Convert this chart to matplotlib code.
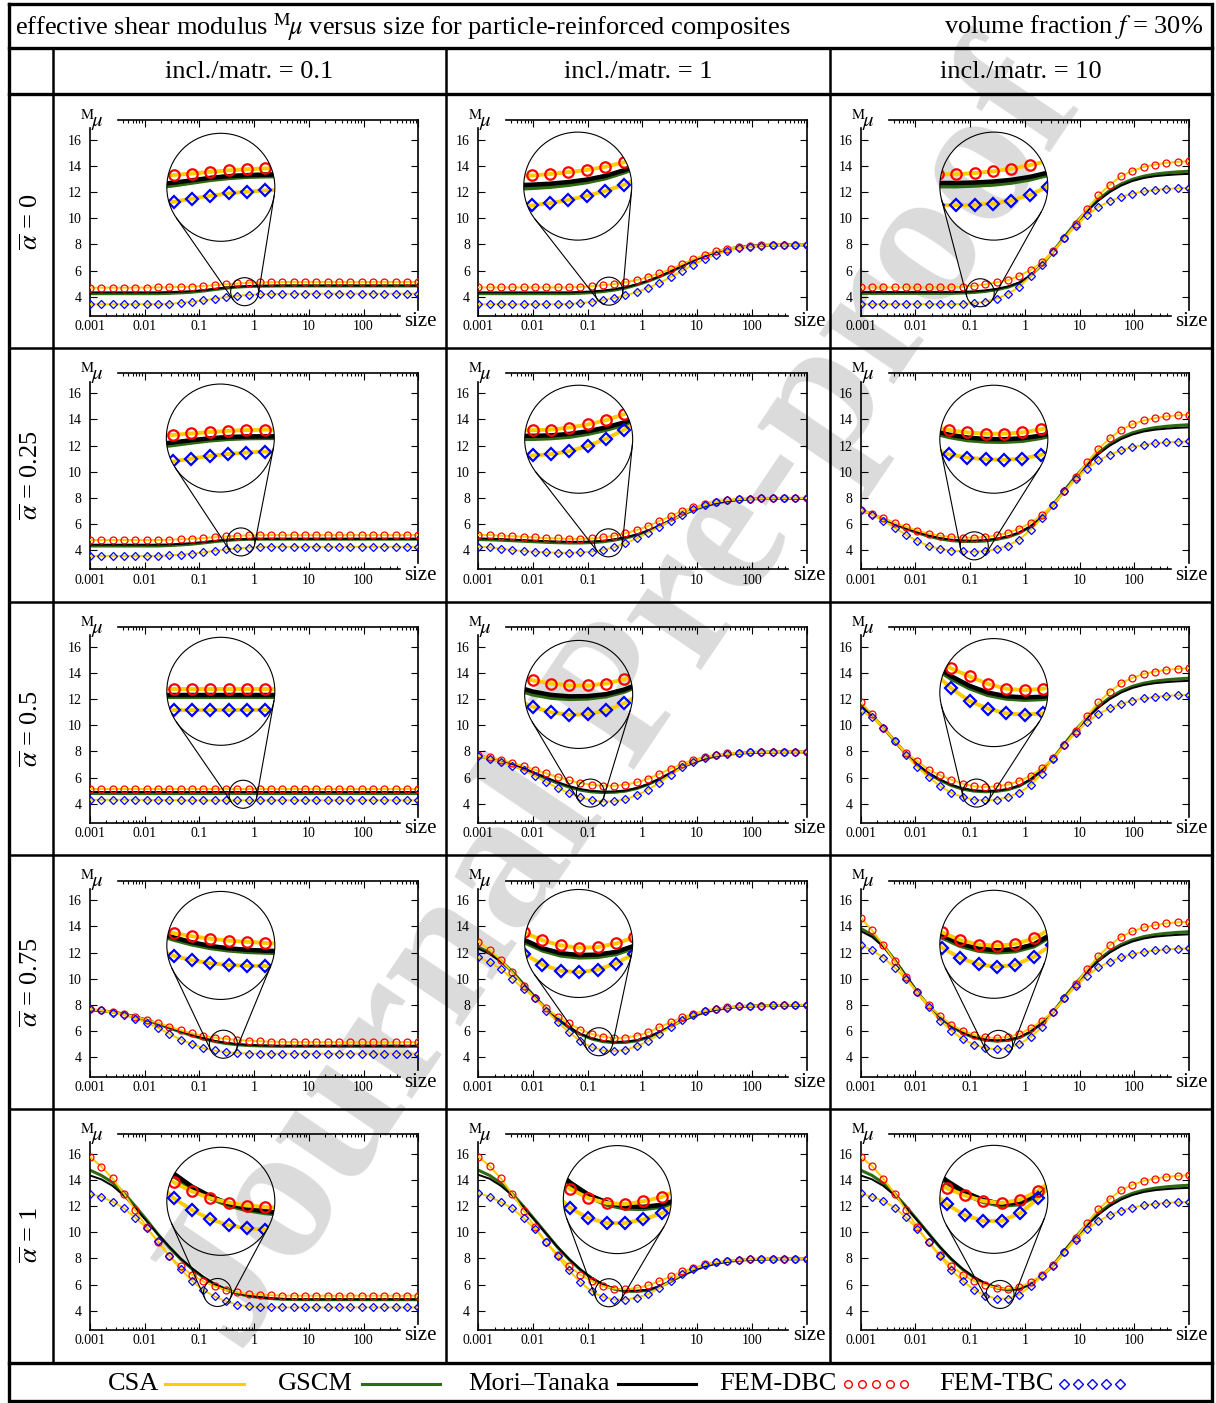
import numpy as np
import matplotlib
matplotlib.use("Agg")
import matplotlib.pyplot as plt
from matplotlib.patches import Circle, Ellipse
from matplotlib.lines import Line2D
from matplotlib.ticker import NullLocator

plt.rcParams['font.family'] = ['Liberation Serif', 'DejaVu Serif']
plt.rcParams['mathtext.fontset'] = 'stix'

# ---------------- data ----------------
size_pts = [0.001, 0.00161, 0.002593, 0.004176, 0.006724, 0.01083, 0.01744, 0.02808,
            0.04521, 0.07281, 0.1172, 0.1888, 0.304, 0.4896, 0.7884, 1.2695, 2.044,
            3.292, 5.301, 8.536, 13.75, 22.14, 35.65, 57.4, 92.43, 148.8, 239.7,
            386.0, 621.5, 1000.0]

alpha_labels = ['0', '0.25', '0.5', '0.75', '1']
ratio_labels = ['0.1', '1', '10']
xtick_vals = [0.001, 0.01, 0.1, 1, 10, 100]
xtick_labels = ['0.001', '0.01', '0.1', '1', '10', '100']
ytick_vals = [4, 6, 8, 10, 12, 14, 16]
legend_labels = ['CSA', 'GSCM', 'Mori\u2013Tanaka', 'FEM-DBC', 'FEM-TBC']

# ratio 0.1 column
dbc_c1_a0 = [4.69]*4 + [4.70, 4.70, 4.71, 4.72, 4.74, 4.77, 4.82, 4.88, 4.95, 5.01, 5.06, 5.09, 5.11, 5.12] + [5.13]*12
tbc_c1_a0 = [3.42]*6 + [3.43, 3.46, 3.52, 3.60, 3.71, 3.84, 3.96, 4.06, 4.13, 4.18, 4.21, 4.22] + [4.23]*12
mt_c1_a0 = [4.33]*7 + [4.35, 4.38, 4.42, 4.50, 4.60, 4.70, 4.77, 4.81, 4.83, 4.84] + [4.85]*13
gscm_c1_a0 = [4.23]*7 + [4.25, 4.29, 4.34, 4.43, 4.54, 4.65, 4.73, 4.78, 4.80, 4.81] + [4.82]*13

dbc_c1_a25 = [4.78]*7 + [4.80, 4.83, 4.87, 4.93, 4.99, 5.05, 5.10, 5.13] + [5.15]*15
tbc_c1_a25 = [3.56]*6 + [3.57, 3.60, 3.65, 3.73, 3.83, 3.95, 4.06, 4.14, 4.20, 4.24] + [4.26]*14
mt_c1_a25 = [4.42]*7 + [4.44, 4.48, 4.54, 4.62, 4.71, 4.79, 4.84, 4.86] + [4.87]*15
gscm_c1_a25 = [4.32]*7 + [4.35, 4.40, 4.46, 4.55, 4.65, 4.74, 4.80, 4.83] + [4.84]*15

dbc_c1_a50 = [5.14]*30
tbc_c1_a50 = [4.30]*5 + [4.29, 4.28, 4.27, 4.26, 4.25, 4.25, 4.25, 4.25, 4.25, 4.26] + [4.26]*15
mt_c1_a50 = [4.87]*30
gscm_c1_a50 = [4.83]*30

dbc_c1_a75 = [7.66, 7.61, 7.46, 7.30, 7.10, 6.87, 6.62, 6.34, 6.06, 5.83, 5.63, 5.50, 5.40, 5.32,
              5.27, 5.22, 5.19, 5.17, 5.16] + [5.15]*11
tbc_c1_a75 = [7.66, 7.58, 7.40, 7.20, 6.95, 6.64, 6.24, 5.78, 5.35, 5.02, 4.69, 4.51, 4.38, 4.31,
              4.28] + [4.27]*15
mt_c1_a75 = [7.62, 7.58, 7.48, 7.33, 7.12, 6.87, 6.58, 6.28, 5.98, 5.70, 5.45, 5.25, 5.10, 5.00,
             4.94, 4.90, 4.88] + [4.87]*13
gscm_c1_a75 = [7.60, 7.56, 7.45, 7.29, 7.08, 6.83, 6.54, 6.23, 5.93, 5.65, 5.40, 5.20, 5.05, 4.95,
               4.89, 4.86, 4.84] + [4.83]*13

dbc_c1_a100 = [15.77, 15.03, 14.12, 12.95, 11.68, 10.41, 9.24, 8.20, 7.38, 6.75, 6.24, 5.86, 5.58,
               5.40, 5.27, 5.22, 5.18, 5.16] + [5.15]*12
tbc_c1_a100 = [12.95, 12.70, 12.34, 11.83, 11.12, 10.31, 9.34, 8.20, 7.18, 6.29, 5.58, 5.09, 4.71,
               4.46, 4.33, 4.28, 4.26] + [4.25]*13
mt_c1_a100 = [14.35, 14.05, 13.55, 12.80, 11.85, 10.85, 9.85, 8.90, 8.00, 7.25, 6.60, 6.05, 5.65,
              5.35, 5.15, 5.03, 4.95, 4.90, 4.88] + [4.87]*11
gscm_c1_a100 = [14.75, 14.35, 13.80, 13.00, 12.00, 10.95, 9.85, 8.85, 7.95, 7.20, 6.55, 6.02, 5.62,
                5.32, 5.12, 5.00, 4.92, 4.87, 4.85] + [4.84]*11

# ratio 1 column
dbc_c2_a0 = [4.71]*9 + [4.74, 4.80, 4.88, 4.97, 5.10, 5.28, 5.50, 5.78, 6.12, 6.50, 6.88, 7.20, 7.47,
                        7.67, 7.80, 7.88, 7.93, 7.95, 7.97, 7.97, 7.98]
tbc_c2_a0 = [3.42]*8 + [3.45, 3.50, 3.60, 3.73, 3.90, 4.10, 4.35, 4.68, 5.05, 5.50, 5.98, 6.45, 6.88,
                        7.22, 7.50, 7.70, 7.82, 7.90, 7.94, 7.96, 7.97, 7.98]
mt_c2_a0 = [4.33]*9 + [4.36, 4.40, 4.47, 4.57, 4.72, 4.95, 5.22, 5.55, 5.93, 6.35, 6.77, 7.12, 7.42,
                       7.63, 7.78, 7.87, 7.92, 7.95, 7.96, 7.96, 7.96]
gscm_c2_a0 = [4.23]*9 + [4.26, 4.31, 4.39, 4.50, 4.66, 4.90, 5.18, 5.52, 5.91, 6.34, 6.77, 7.12, 7.42,
                         7.63, 7.78, 7.87, 7.92, 7.95, 7.96, 7.96, 7.96]

dbc_c2_a25 = [5.16, 5.16, 5.11, 5.08, 5.03, 4.98, 4.92, 4.90, 4.87, 4.87, 4.90, 4.98, 5.11, 5.29, 5.54,
              5.85, 6.23, 6.61, 7.00, 7.28, 7.53, 7.71, 7.84, 7.91, 7.94, 7.96, 7.97, 7.97, 7.98, 7.98]
tbc_c2_a25 = [4.27, 4.22, 4.11, 4.01, 3.93, 3.88, 3.83, 3.80, 3.80, 3.83, 3.88, 4.01, 4.22, 4.52, 4.90,
              5.34, 5.79, 6.25, 6.71, 7.12, 7.43, 7.68, 7.82, 7.90, 7.94, 7.96, 7.97, 7.97, 7.98, 7.98]
mt_c2_a25 = [4.90, 4.88, 4.85, 4.81, 4.77, 4.73, 4.69, 4.66, 4.64, 4.64, 4.66, 4.72, 4.83, 4.99, 5.20,
             5.50, 5.87, 6.28, 6.70, 7.08, 7.38, 7.60, 7.76, 7.86, 7.92, 7.95, 7.96, 7.96, 7.96, 7.96]
gscm_c2_a25 = [4.81, 4.79, 4.76, 4.72, 4.68, 4.64, 4.60, 4.57, 4.55, 4.55, 4.58, 4.64, 4.76, 4.93, 5.15,
               5.46, 5.85, 6.27, 6.70, 7.08, 7.38, 7.60, 7.76, 7.86, 7.92, 7.95, 7.96, 7.96, 7.96, 7.96]

dbc_c2_a50 = [7.69, 7.56, 7.36, 7.13, 6.88, 6.60, 6.32, 6.04, 5.78, 5.58, 5.45, 5.37, 5.37, 5.45, 5.63,
              5.91, 6.29, 6.67, 7.06, 7.36, 7.59, 7.74, 7.84, 7.89, 7.94, 7.96, 7.97, 7.97, 7.98, 7.98]
tbc_c2_a50 = [7.64, 7.43, 7.18, 6.88, 6.55, 6.11, 5.66, 5.20, 4.82, 4.49, 4.26, 4.16, 4.18, 4.34, 4.64,
              5.07, 5.61, 6.22, 6.80, 7.21, 7.52, 7.69, 7.79, 7.87, 7.92, 7.95, 7.96, 7.97, 7.98, 7.98]
mt_c2_a50 = [7.65, 7.50, 7.27, 7.00, 6.70, 6.36, 6.00, 5.65, 5.35, 5.12, 4.98, 4.92, 4.93, 5.01, 5.20,
             5.50, 5.90, 6.35, 6.80, 7.15, 7.45, 7.65, 7.78, 7.86, 7.91, 7.94, 7.95, 7.96, 7.96, 7.96]
gscm_c2_a50 = [7.64, 7.48, 7.24, 6.96, 6.65, 6.30, 5.93, 5.57, 5.27, 5.04, 4.90, 4.85, 4.87, 4.96, 5.16,
               5.47, 5.88, 6.34, 6.80, 7.15, 7.45, 7.65, 7.78, 7.86, 7.91, 7.94, 7.95, 7.96, 7.96, 7.96]

dbc_c2_a75 = [12.85, 12.22, 11.43, 10.49, 9.47, 8.53, 7.74, 7.10, 6.59, 6.11, 5.78, 5.57, 5.47, 5.50, 5.65,
              5.90, 6.29, 6.67, 7.05, 7.31, 7.56, 7.71, 7.82, 7.89, 7.92, 7.95, 7.96, 7.97, 7.98, 7.98]
tbc_c2_a75 = [11.64, 11.26, 10.75, 9.99, 9.22, 8.53, 7.57, 6.68, 5.92, 5.23, 4.77, 4.52, 4.46, 4.57, 4.82,
              5.23, 5.76, 6.30, 6.81, 7.22, 7.52, 7.70, 7.80, 7.88, 7.92, 7.95, 7.96, 7.97, 7.98, 7.98]
mt_c2_a75 = [12.30, 11.90, 11.30, 10.50, 9.55, 8.60, 7.72, 6.95, 6.30, 5.80, 5.45, 5.25, 5.17, 5.19, 5.30,
             5.55, 5.92, 6.35, 6.80, 7.15, 7.45, 7.65, 7.78, 7.86, 7.91, 7.94, 7.95, 7.96, 7.96, 7.96]
gscm_c2_a75 = [12.42, 12.00, 11.38, 10.55, 9.58, 8.60, 7.70, 6.92, 6.26, 5.75, 5.40, 5.19, 5.11, 5.13, 5.25,
               5.51, 5.90, 6.34, 6.80, 7.15, 7.45, 7.65, 7.78, 7.86, 7.91, 7.94, 7.95, 7.96, 7.96, 7.96]

dbc_c2_a100 = [15.78, 15.07, 14.12, 12.93, 11.66, 10.39, 9.24, 8.27, 7.43, 6.75, 6.26, 5.88, 5.68, 5.63, 5.75,
               5.93, 6.26, 6.62, 7.00, 7.28, 7.54, 7.71, 7.82, 7.89, 7.94, 7.96, 7.97, 7.97, 7.98, 7.98]
tbc_c2_a100 = [12.98, 12.73, 12.30, 11.84, 11.08, 10.26, 9.24, 8.15, 7.08, 6.19, 5.48, 5.05, 4.85, 4.85, 5.00,
               5.25, 5.74, 6.27, 6.78, 7.18, 7.49, 7.69, 7.82, 7.89, 7.94, 7.96, 7.97, 7.97, 7.98, 7.98]
mt_c2_a100 = [14.40, 14.10, 13.55, 12.82, 11.90, 10.90, 9.88, 8.88, 7.97, 7.17, 6.52, 6.02, 5.70, 5.54, 5.52,
              5.60, 5.86, 6.25, 6.70, 7.08, 7.40, 7.62, 7.76, 7.86, 7.91, 7.94, 7.95, 7.96, 7.96, 7.96]
gscm_c2_a100 = [14.75, 14.35, 13.75, 12.95, 11.98, 10.95, 9.90, 8.85, 7.94, 7.14, 6.49, 5.98, 5.65, 5.49, 5.47,
                5.56, 5.83, 6.24, 6.70, 7.08, 7.40, 7.62, 7.76, 7.86, 7.91, 7.94, 7.95, 7.96, 7.96, 7.96]

# ratio 10 column (large-size tail is common to all rows)
dbc_c3_tail = [7.48, 8.49, 9.59, 10.73, 11.75, 12.56, 13.22, 13.63, 13.93, 14.11, 14.24, 14.32, 14.37]
tbc_c3_tail = [7.44, 8.50, 9.42, 10.24, 10.87, 11.30, 11.63, 11.89, 12.05, 12.17, 12.25, 12.30, 12.32]
mt_c3_tail = [7.45, 8.55, 9.60, 10.55, 11.35, 12.00, 12.50, 12.85, 13.08, 13.22, 13.30, 13.36, 13.40]
gscm_c3_tail = [7.47, 8.58, 9.65, 10.62, 11.45, 12.12, 12.62, 12.98, 13.22, 13.38, 13.48, 13.55, 13.60]

dbc_c3_a0 = [4.71]*9 + [4.76, 4.83, 4.94, 5.09, 5.26, 5.60, 6.03, 6.66] + dbc_c3_tail
tbc_c3_a0 = [3.43]*9 + [3.45, 3.50, 3.62, 3.85, 4.20, 4.75, 5.55, 6.45] + tbc_c3_tail
mt_c3_a0 = [4.35]*9 + [4.37, 4.41, 4.48, 4.60, 4.78, 5.08, 5.62, 6.42] + mt_c3_tail
gscm_c3_a0 = [4.25]*9 + [4.28, 4.32, 4.40, 4.53, 4.72, 5.04, 5.60, 6.42] + gscm_c3_tail

dbc_c3_a25 = [7.11, 6.80, 6.45, 6.09, 5.78, 5.50, 5.27, 5.11, 5.01, 4.96, 4.96, 5.01, 5.14, 5.32, 5.65,
              6.09, 6.70] + dbc_c3_tail
tbc_c3_a25 = [7.05, 6.72, 6.25, 5.70, 5.18, 4.70, 4.32, 4.10, 3.97, 3.90, 3.88, 3.93, 4.08, 4.35, 4.80,
              5.55, 6.45] + tbc_c3_tail
mt_c3_a25 = [7.05, 6.75, 6.40, 6.02, 5.68, 5.38, 5.12, 4.92, 4.80, 4.74, 4.73, 4.77, 4.88, 5.05, 5.35,
             5.82, 6.50] + mt_c3_tail
gscm_c3_a25 = [7.08, 6.76, 6.39, 6.00, 5.64, 5.33, 5.06, 4.86, 4.73, 4.67, 4.66, 4.70, 4.82, 5.00, 5.31,
               5.80, 6.50] + gscm_c3_tail

dbc_c3_a50 = [11.76, 10.87, 9.80, 8.83, 7.89, 7.26, 6.60, 6.17, 5.84, 5.53, 5.33, 5.27, 5.33, 5.46, 5.74,
              6.12, 6.73] + dbc_c3_tail
tbc_c3_a50 = [11.12, 10.61, 9.78, 8.83, 7.76, 6.80, 6.04, 5.35, 4.82, 4.51, 4.31, 4.26, 4.31, 4.51, 4.84,
              5.40, 6.30] + tbc_c3_tail
mt_c3_a50 = [11.50, 10.75, 9.80, 8.83, 7.85, 7.00, 6.35, 5.85, 5.45, 5.17, 5.02, 4.97, 5.00, 5.12, 5.38,
             5.85, 6.55] + mt_c3_tail
gscm_c3_a50 = [11.55, 10.78, 9.80, 8.80, 7.80, 6.95, 6.29, 5.79, 5.39, 5.11, 4.96, 4.91, 4.94, 5.07, 5.34,
               5.83, 6.55] + gscm_c3_tail

dbc_c3_a75 = [14.68, 13.71, 12.59, 11.37, 10.10, 8.95, 7.99, 7.17, 6.48, 6.03, 5.70, 5.52, 5.47, 5.54, 5.77,
              6.20, 6.79] + dbc_c3_tail
tbc_c3_a75 = [12.59, 12.18, 11.62, 10.86, 9.97, 8.95, 7.81, 6.79, 6.03, 5.39, 4.96, 4.70, 4.60, 4.68, 5.01,
              5.52, 6.29] + tbc_c3_tail
mt_c3_a75 = [13.65, 13.20, 12.45, 11.40, 10.20, 9.00, 7.95, 7.10, 6.40, 5.90, 5.55, 5.35, 5.28, 5.33, 5.52,
             5.95, 6.60] + mt_c3_tail
gscm_c3_a75 = [13.85, 13.35, 12.55, 11.45, 10.22, 8.98, 7.92, 7.06, 6.35, 5.85, 5.50, 5.30, 5.23, 5.28, 5.48,
               5.93, 6.60] + gscm_c3_tail

dbc_c3_a100 = [15.78, 15.07, 14.10, 12.96, 11.69, 10.37, 9.23, 8.26, 7.44, 6.76, 6.27, 5.97, 5.74, 5.66, 5.79,
               6.17, 6.73] + dbc_c3_tail
tbc_c3_a100 = [12.98, 12.70, 12.40, 11.89, 11.13, 10.26, 9.24, 8.15, 7.13, 6.29, 5.61, 5.15, 4.92, 4.92, 5.23,
               5.86, 6.63] + tbc_c3_tail
mt_c3_a100 = [14.35, 14.05, 13.55, 12.82, 11.90, 10.90, 9.88, 8.88, 7.97, 7.20, 6.58, 6.10, 5.78, 5.62, 5.68,
              6.05, 6.68] + mt_c3_tail
gscm_c3_a100 = [14.75, 14.35, 13.75, 12.95, 11.98, 10.95, 9.90, 8.85, 7.94, 7.16, 6.54, 6.06, 5.74, 5.58, 5.65,
                6.03, 6.68] + gscm_c3_tail

DBC = [[dbc_c1_a0, dbc_c2_a0, dbc_c3_a0], [dbc_c1_a25, dbc_c2_a25, dbc_c3_a25],
       [dbc_c1_a50, dbc_c2_a50, dbc_c3_a50], [dbc_c1_a75, dbc_c2_a75, dbc_c3_a75],
       [dbc_c1_a100, dbc_c2_a100, dbc_c3_a100]]
TBC = [[tbc_c1_a0, tbc_c2_a0, tbc_c3_a0], [tbc_c1_a25, tbc_c2_a25, tbc_c3_a25],
       [tbc_c1_a50, tbc_c2_a50, tbc_c3_a50], [tbc_c1_a75, tbc_c2_a75, tbc_c3_a75],
       [tbc_c1_a100, tbc_c2_a100, tbc_c3_a100]]
MT = [[mt_c1_a0, mt_c2_a0, mt_c3_a0], [mt_c1_a25, mt_c2_a25, mt_c3_a25],
      [mt_c1_a50, mt_c2_a50, mt_c3_a50], [mt_c1_a75, mt_c2_a75, mt_c3_a75],
      [mt_c1_a100, mt_c2_a100, mt_c3_a100]]
GSCM = [[gscm_c1_a0, gscm_c2_a0, gscm_c3_a0], [gscm_c1_a25, gscm_c2_a25, gscm_c3_a25],
        [gscm_c1_a50, gscm_c2_a50, gscm_c3_a50], [gscm_c1_a75, gscm_c2_a75, gscm_c3_a75],
        [gscm_c1_a100, gscm_c2_a100, gscm_c3_a100]]

# magnifier: small circle centre, region shown in the lens, lens centre (all data coords)
zoom_centre = [[(0.67, 4.38), (0.243, 4.42), (0.153, 4.30)],
               [(0.571, 4.63), (0.239, 4.56), (0.119, 4.33)],
               [(0.627, 4.72), (0.112, 4.81), (0.131, 4.81)],
               [(0.274, 4.99), (0.160, 5.18), (0.332, 4.98)],
               [(0.214, 5.39), (0.243, 5.37), (0.352, 5.24)]]
lens_view = [[(0.40, 4.31), (0.24, 4.30), (0.12, 4.22)],
             [(0.40, 4.80), (0.24, 4.50), (0.09, 4.73)],
             [(0.40, 5.03), (0.24, 5.00), (0.085, 5.17)],
             [(0.40, 5.12), (0.30, 5.65), (0.28, 5.53)],
             [(0.40, 5.45), (0.40, 5.82), (0.40, 5.81)]]
lens_centre = [[(0.246, 12.37), (0.0656, 12.46), (0.271, 12.46)],
               [(0.241, 12.58), (0.0683, 12.49), (0.271, 12.49)],
               [(0.246, 12.60), (0.0683, 12.36), (0.271, 12.50)],
               [(0.246, 12.55), (0.0683, 12.70), (0.271, 12.64)],
               [(0.246, 12.37), (0.347, 12.50), (0.271, 12.52)]]

# ---------------- style ----------------
C_CSA = '#FFCC00'
C_GSCM = '#2D6A10'
C_MT = 'black'
C_DBC = '#FF0000'
C_TBC = '#0000FF'

W, H = 1216, 1403
fig = plt.figure(figsize=(W / 100, H / 100), dpi=100)

bg = fig.add_axes([0, 0, 1, 1], zorder=-10)
bg.set_xlim(0, W)
bg.set_ylim(H, 0)
bg.axis('off')

# watermark
bg.text(622, 702, 'Journal Pre-proof', rotation=56, fontsize=141, fontweight='bold',
        color='#dbdbdb', ha='center', va='center', rotation_mode='anchor', zorder=0)

# table
LT = 2.4
LN = 1.8
bg.plot([9, 1212, 1212, 9, 9], [4, 4, 1401, 1401, 4], color='k', lw=LT, zorder=3,
        solid_joinstyle='miter')
for yy in [48, 93.5, 1363]:
    bg.plot([9, 1212], [yy, yy], color='k', lw=LT, zorder=3)
for yy in [348, 601.5, 855, 1108.5]:
    bg.plot([9, 1212], [yy, yy], color='k', lw=LN, zorder=3)
for xx in [53, 446, 830]:
    bg.plot([xx, xx], [48, 1363], color='k', lw=LN, zorder=3)

TF = 19
bg.text(15, 27, r'effective shear modulus $^{\mathrm{M}}\!\mu$ versus size for particle-reinforced composites',
        fontsize=TF, ha='left', va='center')
bg.text(1203, 27, r'volume fraction $f$ = 30%', fontsize=TF, ha='right', va='center')
for c, xc in enumerate([249.5, 638, 1021]):
    bg.text(xc, 72, 'incl./matr. = ' + ratio_labels[c], fontsize=TF, ha='center', va='center')
row_mid = [221.5, 474.75, 728.25, 981.75, 1235]
for r in range(5):
    bg.text(31, row_mid[r], r'$\overline{\alpha}$ = ' + alpha_labels[r], fontsize=TF,
            rotation=90, ha='center', va='center')

# legend
ly = 1384
bg.text(159, ly, legend_labels[0], fontsize=TF, ha='right', va='center')
bg.plot([165, 244], [ly, ly], color=C_CSA, lw=2.2)
bg.text(353, ly, legend_labels[1], fontsize=TF, ha='right', va='center')
bg.plot([362, 440], [ly, ly], color=C_GSCM, lw=2.2)
bg.text(610, ly, legend_labels[2], fontsize=TF, ha='right', va='center')
bg.plot([618, 696], [ly, ly], color=C_MT, lw=2.2)
bg.text(837, ly, legend_labels[3], fontsize=TF, ha='right', va='center')
bg.plot(np.linspace(848, 904, 5), [ly] * 5, ls='none', marker='o', ms=5.5, mfc='none',
        mec=C_DBC, mew=1.0)
bg.text(1054, ly, legend_labels[4], fontsize=TF, ha='right', va='center')
bg.plot(np.linspace(1064, 1120, 5), [ly] * 5, ls='none', marker='D', ms=4.6, mfc='none',
        mec=C_TBC, mew=1.0)

# axes
col_left = [90, 478.3, 860.7]
row_top = [120, 373.5, 627, 880.5, 1134]
AW, AH = 328.3, 196
YLIM = (2.52, 17.52)
bottom_minor = [m * 10.0 ** d for d in range(-3, 3) for m in range(2, 10) if m * 10.0 ** d <= 400]
top_minor = [m * 10.0 ** d for d in range(-3, 3) for m in range(2, 10) if m * 10.0 ** d >= 0.0035]
top_major = [0.01, 0.1, 1, 10, 100, 1000]
R_BIG, R_SMALL, MAG_X, MAG_Y = 54.0, 14.0, 1.62, 1.85

for r in range(5):
    for c in range(3):
        left, top = col_left[c], row_top[r]
        ax = fig.add_axes([left / W, 1 - (top + AH) / H, AW / W, AH / H])
        ax.set_facecolor('none')
        ax.set_xscale('log')
        ax.set_xlim(1e-3, 1e3)
        ax.set_ylim(*YLIM)
        x = size_pts
        ax.plot(x, GSCM[r][c], color=C_GSCM, lw=2.2, zorder=2)
        ax.plot(x, MT[r][c], color=C_MT, lw=1.4, zorder=3)
        ax.plot(x, DBC[r][c], color=C_CSA, lw=1.4, zorder=4)
        ax.plot(x, TBC[r][c], color=C_CSA, lw=1.4, zorder=4)
        ax.plot(x, DBC[r][c], ls='none', marker='o', ms=5, mfc='none', mec=C_DBC, mew=0.9, zorder=5)
        ax.plot(x, TBC[r][c], ls='none', marker='D', ms=4.0, mfc='none', mec=C_TBC, mew=0.9, zorder=5)

        ax.set_xticks(xtick_vals)
        ax.set_xticklabels(xtick_labels)
        ax.set_xticks(bottom_minor, minor=True)
        ax.set_yticks(ytick_vals)
        ax.set_yticklabels([str(v) for v in ytick_vals])
        ax.yaxis.set_minor_locator(NullLocator())
        ax.tick_params(which='both', direction='in', top=False, right=True, width=0.8,
                       labelsize=10)
        ax.tick_params(which='major', length=5)
        ax.tick_params(which='minor', length=2.5)
        ax.tick_params(axis='x', pad=3)
        ax.tick_params(axis='y', pad=6)
        ax.spines['top'].set_visible(False)
        for s in ['left', 'right', 'bottom']:
            ax.spines[s].set_linewidth(1.2)
        ax.spines['left'].set_bounds(YLIM[0], 16.9)
        ax.spines['right'].set_bounds(3.0, YLIM[1])
        ax.spines['bottom'].set_bounds(1e-3, 464)

        axt = ax.twiny()
        axt.set_xscale('log')
        axt.set_xlim(1e-3, 1e3)
        axt.set_xticks(top_major)
        axt.set_xticks(top_minor, minor=True)
        axt.tick_params(which='both', direction='in', labeltop=False, width=0.8)
        axt.tick_params(which='major', length=5)
        axt.tick_params(which='minor', length=2.5)
        for s in ['left', 'right', 'bottom']:
            axt.spines[s].set_visible(False)
        axt.spines['top'].set_linewidth(1.2)
        axt.spines['top'].set_bounds(0.00325, 1e3)

        ax.text(0.006, 1.0, r'$^{\mathrm{M}}\!\mu$', transform=ax.transAxes, fontsize=15,
                ha='center', va='center')
        ax.text(1.007, -0.03, 'size', transform=ax.transAxes, fontsize=15,
                ha='center', va='center')

        # magnifier
        scx, scy = zoom_centre[r][c]
        vx, vy = lens_view[r][c]
        lcx, lcy = lens_centre[r][c]
        S = ax.transData.transform((scx, scy))
        B = ax.transData.transform((lcx, lcy))
        ppd = ax.transData.transform((10, 5))[0] - ax.transData.transform((1, 5))[0]
        ppu = ax.transData.transform((1, 6))[1] - ax.transData.transform((1, 5))[1]
        ins = fig.add_axes([(B[0] - R_BIG) / W, (B[1] - R_BIG) / H, 2 * R_BIG / W, 2 * R_BIG / H])
        ins.set_xscale('log')
        hd = R_BIG / (MAG_X * ppd)
        hu = R_BIG / (MAG_Y * ppu)
        ins.set_xlim(vx * 10 ** (-hd), vx * 10 ** hd)
        ins.set_ylim(vy - hu, vy + hu)
        ins.axis('off')
        clip = Circle((0.5, 0.5), 0.5, transform=ins.transAxes)
        arts = []
        arts += ins.plot(x, GSCM[r][c], color=C_GSCM, lw=4.4, zorder=2)
        arts += ins.plot(x, MT[r][c], color=C_MT, lw=3.2, zorder=3)
        arts += ins.plot(x, DBC[r][c], color=C_CSA, lw=2.8, zorder=4)
        arts += ins.plot(x, TBC[r][c], color=C_CSA, lw=2.8, zorder=4)
        arts += ins.plot(x, DBC[r][c], ls='none', marker='o', ms=7.5, mfc='none', mec=C_DBC,
                         mew=1.6, zorder=5)
        arts += ins.plot(x, TBC[r][c], ls='none', marker='D', ms=6.2, mfc='none', mec=C_TBC,
                         mew=1.6, zorder=5)
        for a in arts:
            a.set_clip_path(clip)
        ins.add_patch(Circle((0.5, 0.5), 0.5, transform=ins.transAxes, fill=False, lw=0.8,
                             ec='k', clip_on=False, zorder=6))
        fig.add_artist(Ellipse((S[0] / W, S[1] / H), 2 * R_SMALL / W, 2 * R_SMALL / H,
                               transform=fig.transFigure, fill=False, lw=0.8, ec='k'))
        d = B - S
        dist = np.hypot(*d)
        u = d / dist
        up = np.array([-u[1], u[0]])
        cp = -(R_BIG - R_SMALL) / dist
        sp = np.sqrt(1 - cp ** 2)
        for sg in (1, -1):
            m = cp * u + sg * sp * up
            Ts = S + R_SMALL * m
            Tb = B + R_BIG * m
            fig.add_artist(Line2D([Ts[0] / W, Tb[0] / W], [Ts[1] / H, Tb[1] / H],
                                  transform=fig.transFigure, lw=0.8, color='k'))

fig.savefig('out.png', dpi=100)
